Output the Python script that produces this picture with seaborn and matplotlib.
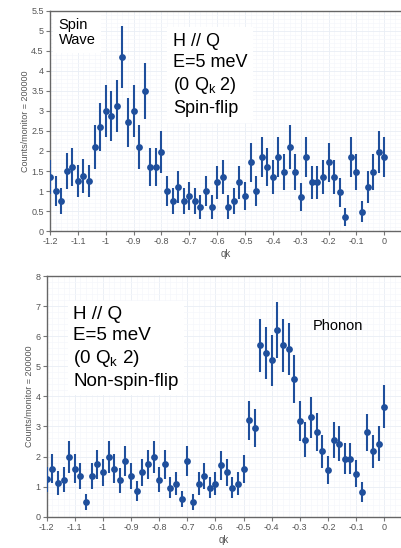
import numpy as np
import matplotlib
matplotlib.use("Agg")
import matplotlib.pyplot as plt
from matplotlib.ticker import MultipleLocator, FormatStrFormatter
import seaborn as sns

# scan grid along k (61 points, -1.2 .. 0)
qk = np.linspace(-1.2, 0.0, 61)

# spin-flip (top panel)
sf_counts = [1.35, 1.0, 0.75, 1.5, 1.6, 1.25, 1.38, 1.25, 2.1, 2.6,
             3.0, 2.87, 3.12, 4.35, 2.72, 3.0, 2.1, 3.5, 1.6, 1.6,
             1.97, 1.0, 0.75, 1.1, 0.75, 0.87, 0.75, 0.6, 1.0, 0.6,
             1.22, 1.35, 0.6, 0.75, 1.22, 0.87, 1.72, 1.0, 1.85, 1.6,
             1.35, 1.85, 1.48, 2.1, 1.48, 0.85, 1.85, 1.22, 1.22, 1.35,
             1.72, 1.35, 0.97, 0.35, 1.85, 1.48, 0.48, 1.1, 1.48, 1.97, 1.85]
sf_err = [0.43, 0.37, 0.32, 0.45, 0.47, 0.41, 0.43, 0.41, 0.54, 0.60,
          0.64, 0.63, 0.65, 0.77, 0.61, 0.64, 0.54, 0.69, 0.47, 0.47,
          0.52, 0.37, 0.32, 0.39, 0.32, 0.35, 0.32, 0.29, 0.37, 0.29,
          0.41, 0.43, 0.29, 0.32, 0.41, 0.35, 0.49, 0.37, 0.50, 0.47,
          0.43, 0.50, 0.45, 0.54, 0.45, 0.34, 0.50, 0.41, 0.41, 0.43,
          0.49, 0.43, 0.36, 0.22, 0.50, 0.45, 0.26, 0.39, 0.45, 0.52, 0.50]

# non-spin-flip (bottom panel)
nsf_counts = [1.24, 1.6, 1.12, 1.23, 1.98, 1.6, 1.36, 0.48, 1.36, 1.74,
              1.48, 1.98, 1.6, 1.21, 1.85, 1.36, 0.86, 1.48, 1.74, 1.98,
              1.23, 1.74, 0.97, 1.1, 0.59, 1.85, 0.48, 1.1, 1.34, 0.97,
              1.1, 1.71, 1.47, 0.97, 1.1, 1.58, 3.2, 2.95, 5.7, 5.45,
              5.2, 6.2, 5.7, 5.57, 4.57, 3.19, 2.56, 3.3, 2.81, 2.18,
              1.56, 2.55, 2.42, 1.93, 1.93, 1.43, 0.81, 2.8, 2.18, 2.42, 3.66]
nsf_err = [0.41, 0.47, 0.39, 0.41, 0.52, 0.47, 0.43, 0.26, 0.43, 0.49,
           0.45, 0.52, 0.47, 0.41, 0.50, 0.43, 0.34, 0.45, 0.49, 0.52,
           0.41, 0.49, 0.36, 0.39, 0.28, 0.50, 0.26, 0.39, 0.43, 0.36,
           0.39, 0.48, 0.45, 0.36, 0.39, 0.47, 0.66, 0.64, 0.88, 0.86,
           0.84, 0.92, 0.88, 0.87, 0.79, 0.66, 0.59, 0.67, 0.62, 0.55,
           0.46, 0.59, 0.58, 0.51, 0.51, 0.44, 0.33, 0.62, 0.55, 0.58, 0.71]

x_ticks = [-1.2, -1.1, -1.0, -0.9, -0.8, -0.7, -0.6, -0.5, -0.4, -0.3, -0.2, -0.1, 0.0]

BLUE = "#1f4f9c"
GREY = "#555555"

sns.set_theme(style="white")
plt.rcParams["font.family"] = ["Liberation Sans", "DejaVu Sans"]
plt.rcParams["mathtext.fontset"] = "custom"
plt.rcParams["mathtext.rm"] = "Liberation Sans"
plt.rcParams["axes.unicode_minus"] = False

W, H = 401, 548
fig = plt.figure(figsize=(W / 100, H / 100), dpi=100)
fig.patch.set_facecolor("white")

ax_top = fig.add_axes([50 / W, 1 - 231 / H, 351 / W, 220 / H])
ax_bot = fig.add_axes([46.7 / W, 1 - 516.7 / H, 354.3 / W, 240.7 / H])


def style_axes(ax, ymax, ystep):
    ax.set_xlim(-1.2, 0.06)
    ax.set_ylim(0, ymax)
    ax.set_xticks(x_ticks)
    ax.xaxis.set_major_formatter(FormatStrFormatter("%g"))
    ax.yaxis.set_major_locator(MultipleLocator(ystep))
    ax.yaxis.set_major_formatter(FormatStrFormatter("%g"))
    ax.xaxis.set_minor_locator(MultipleLocator(0.02))
    ax.yaxis.set_minor_locator(MultipleLocator(ystep / 5))
    ax.grid(which="major", color="#e9eef5", lw=0.6)
    ax.grid(which="minor", color="#f5f7fb", lw=0.5)
    ax.set_axisbelow(True)
    for side in ["left", "bottom", "top"]:
        ax.spines[side].set_color("#666666")
        ax.spines[side].set_linewidth(1.0)
    ax.spines["right"].set_visible(False)
    ax.tick_params(which="major", direction="out", length=3, width=0.8,
                   color="#777777", labelsize=6.5, labelcolor=GREY, pad=1.5,
                   left=True, bottom=True)
    ax.tick_params(which="minor", length=0)
    ax.set_xlabel("qk", fontsize=7, color=GREY, labelpad=2)
    ax.set_ylabel("Counts/monitor = 200000", fontsize=6.5, color=GREY, labelpad=1)


def draw_scan(ax, counts, err):
    ax.errorbar(qk, counts, yerr=err, fmt="none", ecolor=BLUE, elinewidth=1.5,
                capsize=0, zorder=3)
    sns.scatterplot(x=qk, y=counts, ax=ax, color=BLUE, s=24, linewidth=0,
                    zorder=4, legend=False)


style_axes(ax_top, 5.5, 0.5)
draw_scan(ax_top, sf_counts, sf_err)
box = dict(facecolor="white", edgecolor="none", pad=4)
ax_top.text(0.025, 0.97, "Spin\nWave", transform=ax_top.transAxes, ha="left",
            va="top", fontsize=10.5, color="black", linespacing=1.15, bbox=box, zorder=2)
ax_top.text(0.35, 0.9, "H // Q\nE=5 meV\n(0 Q$_\\mathrm{k}$ 2)\nSpin-flip",
            transform=ax_top.transAxes, ha="left", va="top", fontsize=13,
            color="black", linespacing=1.3, bbox=box, zorder=2)

style_axes(ax_bot, 8, 1)
draw_scan(ax_bot, nsf_counts, nsf_err)
ax_bot.text(0.075, 0.875, "H // Q\nE=5 meV\n(0 Q$_\\mathrm{k}$ 2)\nNon-spin-flip",
            transform=ax_bot.transAxes, ha="left", va="top", fontsize=13.6,
            color="black", linespacing=1.28, bbox=box, zorder=2)
ax_bot.text(0.75, 0.82, "Phonon", transform=ax_bot.transAxes, ha="left",
            va="top", fontsize=10.5, color="black", zorder=2)

fig.savefig("out.png", dpi=100, facecolor="white")
